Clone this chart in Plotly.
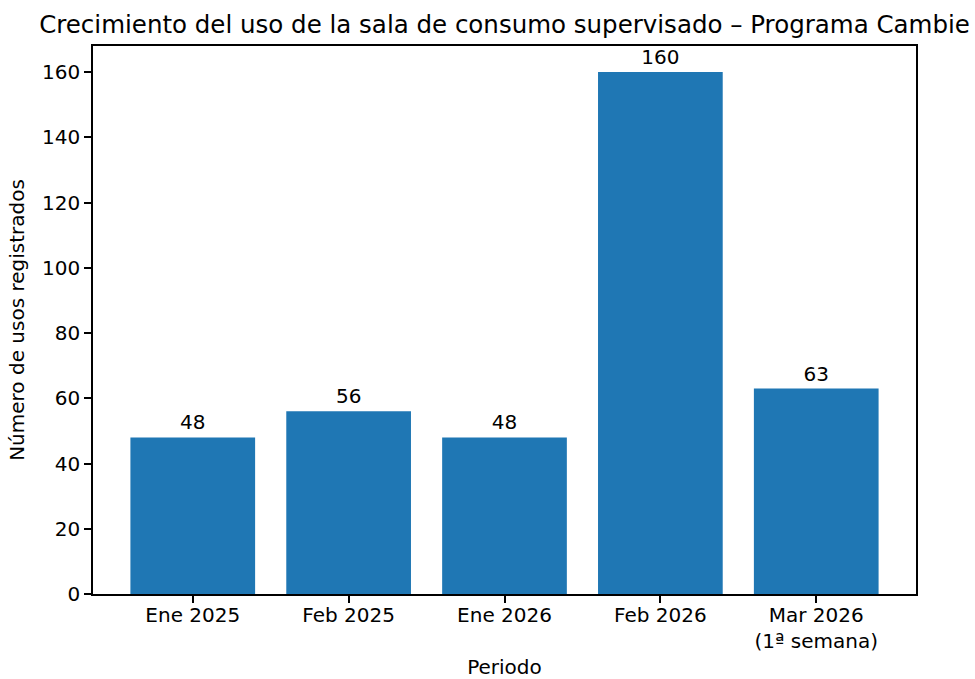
import plotly.graph_objects as go

categories = ["Ene 2025", "Feb 2025", "Ene 2026", "Feb 2026", "Mar 2026<br>(1ª semana)"]
values = [48, 56, 48, 160, 63]
yticks = [0, 20, 40, 60, 80, 100, 120, 140, 160]

FONT = "DejaVu Sans"
TICK = 20
fig = go.Figure()
fig.add_trace(go.Bar(
    x=categories, y=values,
    marker=dict(color="#1f77b4", line=dict(width=0)),
    text=[str(v) for v in values], textposition="outside",
    textfont=dict(family=FONT, size=TICK, color="#000000"),
    cliponaxis=False, constraintext="none",
))
fig.update_layout(
    width=975, height=679,
    margin=dict(l=93, r=59, t=46, b=85, autoexpand=False),
    paper_bgcolor="white", plot_bgcolor="white",
    bargap=0.2, showlegend=False,
    font=dict(family=FONT, size=TICK, color="#000000"),
    title=dict(text="Crecimiento del uso de la sala de consumo supervisado – Programa Cambie",
               x=0.5, xref="paper", xanchor="center", y=1 - 33 / 679, yref="container",
               yanchor="bottom", font=dict(family=FONT, size=24.5, color="#000000")),
)
fig.update_xaxes(
    range=[-0.64, 4.64], showgrid=False, zeroline=False, automargin=False,
    showline=True, linecolor="black", linewidth=1.5, mirror=True,
    ticks="outside", ticklen=7, tickwidth=1.5, tickcolor="black",
    ticklabelstandoff=-5,
    tickfont=dict(family=FONT, size=TICK, color="#000000"),
    title=dict(text="Periodo", font=dict(family=FONT, size=TICK, color="#000000"), standoff=20),
)
fig.update_yaxes(
    range=[0, 168], showgrid=False, zeroline=False, automargin=False,
    showline=True, linecolor="black", linewidth=1.5, mirror=True,
    ticks="outside", ticklen=7, tickwidth=1.5, tickcolor="black",
    tickvals=yticks, ticktext=[str(t) for t in yticks],
    tickfont=dict(family=FONT, size=TICK, color="#000000"),
    title=dict(text="Número de usos registrados", font=dict(family=FONT, size=TICK, color="#000000"), standoff=12),
)
fig.write_html("out.html", config={"displayModeBar": False},
               post_script="document.body.style.margin='0';document.body.style.padding='0';")
